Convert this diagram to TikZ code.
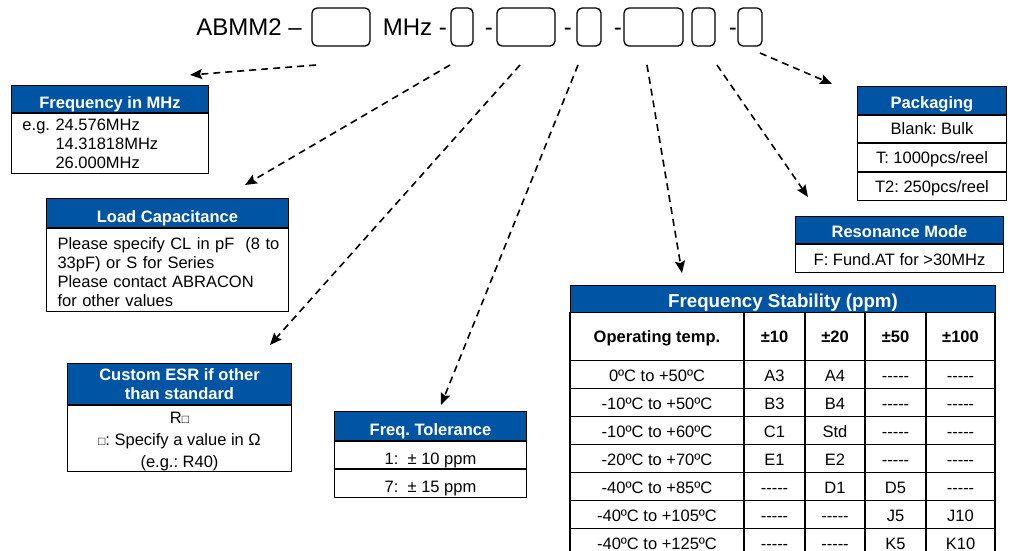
\documentclass[tikz,border=0pt]{standalone}
\usepackage{fontspec}
\setmainfont{Liberation Sans}
\usetikzlibrary{arrows.meta,positioning}
\definecolor{abblue}{RGB}{0,84,164}
\newcommand{\nodata}{-{}-{}-{}-{}-}
\newcommand{\sq}{{\fontsize{12}{12}\selectfont □}}
\AtBeginDocument{\frenchspacing}

\begin{document}
\begin{tikzpicture}[x=1pt,y=-1pt,>={Stealth[length=12pt,width=10pt,inset=2pt]},
	code/.style={inner sep=0pt,anchor=base east,font=\fontsize{24}{28}\selectfont},
	slot/.style={draw,line width=1.3pt,rounded corners=5pt,minimum height=38pt,inner sep=0pt},
	head/.style={draw,line width=1pt,fill=abblue,text=white,inner sep=0pt,align=center,
		font=\fontsize{16.5}{19}\selectfont\bfseries},
	body/.style={draw,line width=1pt,fill=white,inner sep=0pt,align=center,
		font=\fontsize{16.5}{19}\selectfont},
	cell/.style={body,line width=1.2pt,text height=20.5pt,text depth=7.5pt,anchor=north},
	pointer/.style={->,line width=1.6pt,dash pattern=on 7pt off 5pt}]
	
	\useasboundingbox (0,0) rectangle (1010,550);
	
	% part number
	\node[code] (part) at (302,35.5) {ABMM2 –};
	\node[slot,minimum width=58pt] (s1) at (341,27) {};
	\node[code] (mhz) at (447,35.5) {MHz -};
	\node[slot,minimum width=22pt] (s2) at (462,27) {};
	\node[code] (d2) at (493,35.5) {-};
	\node[slot,minimum width=58pt] (s3) at (526,27) {};
	\node[code] (d3) at (572,35.5) {-};
	\node[slot,minimum width=24pt] (s4) at (589,27) {};
	\node[code] (d4) at (622,35.5) {-};
	\node[slot,minimum width=59pt] (s5) at (653.5,27) {};
	\node[slot,minimum width=23pt] (s6) at (703.5,27) {};
	\node[code] (d6) at (737,35.5) {-};
	\node[slot,minimum width=24pt] (s7) at (750,27) {};
	
	% frequency
	\node[head,minimum width=197pt,text height=23pt,text depth=4pt,anchor=north west] (frhead) at (11,85) {Frequency in MHz};
	\node[body,align=left,text width=175pt,inner xsep=11pt,text height=17pt,text depth=43pt,anchor=north] (frbody) at (frhead.south)
		{e.g. 24.576MHz\\\phantom{e.g.\ }14.31818MHz\\\phantom{e.g.\ }26.000MHz};
	
	% load capacitance
	\node[head,minimum width=242pt,text height=24pt,text depth=5pt,anchor=north west] (lchead) at (46,198) {Load Capacitance};
	\node[body,align=left,text width=220pt,inner xsep=11pt,text height=21pt,text depth=62pt,anchor=north] (lcbody) at (lchead.south)
		{\mbox{Please specify CL in pF\ \ (8 to}\\33pF) or S for Series\\Please contact ABRACON\\for other values};
	
	% ESR
	\node[head,minimum width=224pt,text height=36pt,text depth=5pt,anchor=north west] (esrhead) at (67,363) {Custom ESR if other\\than standard};
	\node[body,minimum width=224pt,text height=62pt,text depth=4pt,anchor=north,font=\fontsize{16.5}{22}\selectfont] (esrbody) at (esrhead.south)
		{R\sq\\\sq: Specify a value in Ω\\(e.g.: R40)};
	
	% tolerance
	\node[head,minimum width=192pt,text height=24pt,text depth=5pt,anchor=north west] (tolhead) at (334,411) {Freq. Tolerance};
	\node[body,minimum width=192pt,text height=23pt,text depth=4pt,anchor=north] (tol1) at (tolhead.south) {1:\ \ ± 10 ppm};
	\node[body,minimum width=192pt,text height=23pt,text depth=5pt,anchor=north] (tol7) at (tol1.south) {7:\ \ ± 15 ppm};
	
	% packaging
	\node[head,minimum width=149pt,text height=22pt,text depth=6pt,anchor=north west] (pkhead) at (857,86) {Packaging};
	\node[body,minimum width=149pt,text height=19pt,text depth=8pt,anchor=north] (pkbulk) at (pkhead.south) {Blank: Bulk};
	\node[body,minimum width=149pt,text height=20pt,text depth=8pt,anchor=north] (pkt) at (pkbulk.south) {T: 1000pcs/reel};
	\node[body,minimum width=149pt,text height=20pt,text depth=8pt,anchor=north] (pkt2) at (pkt.south) {T2: 250pcs/reel};
	
	% resonance
	\node[head,minimum width=208pt,text height=21pt,text depth=6pt,anchor=north west] (rshead) at (795,216) {Resonance Mode};
	\node[body,minimum width=208pt,text height=21pt,text depth=7pt,anchor=north] (rsbody) at (rshead.south) {F: Fund.AT for >30MHz};
	
	% stability table
	\node[head,minimum width=425pt,text height=22pt,text depth=5pt,anchor=north west,font=\fontsize{18.7}{22}\selectfont\bfseries] (sthead) at (570,285) {Frequency Stability (ppm)};
	\node[cell,minimum width=174pt,text height=30pt,text depth=18pt,font=\fontsize{16.5}{19}\selectfont\bfseries] (stop) at (657,312) {Operating temp.};
	\foreach \lab/\cx/\w [count=\c] in {±10/774.5/61,±20/835/60,±50/895.5/61,±100/960.5/69}
		\node[cell,minimum width=\w pt,text height=30pt,text depth=18pt,font=\fontsize{16.5}{19}\selectfont\bfseries] (stc\c) at (\cx,312) {\lab};
	\foreach \temp/\pa/\pb/\pc/\pd [count=\r] in {
		0ºC to +50ºC/A3/A4/\nodata/\nodata,
		-10ºC to +50ºC/B3/B4/\nodata/\nodata,
		-10ºC to +60ºC/C1/Std/\nodata/\nodata,
		-20ºC to +70ºC/E1/E2/\nodata/\nodata,
		-40ºC to +85ºC/\nodata/D1/D5/\nodata,
		-40ºC to +105ºC/\nodata/\nodata/J5/J10,
		-40ºC to +125ºC/\nodata/\nodata/K5/K10}
	{
		\node[cell,minimum width=174pt] (op\r) at (657,{332+28*\r}) {\temp};
		\node[cell,minimum width=61pt] (pa\r) at (774.5,{332+28*\r}) {\pa};
		\node[cell,minimum width=60pt] (pb\r) at (835,{332+28*\r}) {\pb};
		\node[cell,minimum width=61pt] (pc\r) at (895.5,{332+28*\r}) {\pc};
		\node[cell,minimum width=69pt] (pd\r) at (960.5,{332+28*\r}) {\pd};
	}
	
	% pointers
	\coordinate (fr-from) at (316,65);   \coordinate (fr-to) at (190,75);
	\coordinate (lc-from) at (450,65);   \coordinate (lc-to) at (245,185);
	\coordinate (esr-from) at (520,65);  \coordinate (esr-to) at (270,345);
	\coordinate (tol-from) at (578,65);  \coordinate (tol-to) at (441,405);
	\coordinate (st-from) at (647,65);   \coordinate (st-to) at (682,273);
	\coordinate (rs-from) at (717,65);   \coordinate (rs-to) at (808,197);
	\coordinate (pk-from) at (760,53);   \coordinate (pk-to) at (832,84);
	\draw[pointer] (fr-from) -- (fr-to);
	\draw[pointer] (lc-from) -- (lc-to);
	\draw[pointer] (esr-from) -- (esr-to);
	\draw[pointer] (tol-from) -- (tol-to);
	\draw[pointer] (st-from) -- (st-to);
	\draw[pointer] (rs-from) -- (rs-to);
	\draw[pointer] (pk-from) -- (pk-to);
\end{tikzpicture}
\end{document}
